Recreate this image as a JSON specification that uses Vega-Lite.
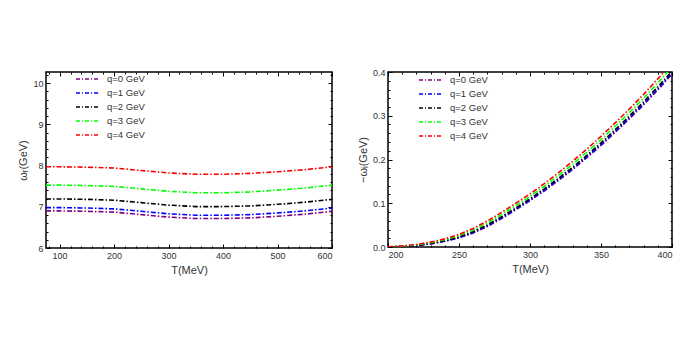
{
  "$schema": "https://vega.github.io/schema/vega-lite/v6.json",
  "background": "white",
  "padding": {"left": 17, "top": 62, "right": 5, "bottom": 5},
  "spacing": 22,
  "datasets": {
    "left": [
      {"q": "q=0 GeV", "T": 75, "w": 6.90}, {"q": "q=0 GeV", "T": 100, "w": 6.90}, {"q": "q=0 GeV", "T": 150, "w": 6.89}, {"q": "q=0 GeV", "T": 200, "w": 6.87}, {"q": "q=0 GeV", "T": 250, "w": 6.81}, {"q": "q=0 GeV", "T": 300, "w": 6.75}, {"q": "q=0 GeV", "T": 350, "w": 6.715}, {"q": "q=0 GeV", "T": 400, "w": 6.715}, {"q": "q=0 GeV", "T": 450, "w": 6.73}, {"q": "q=0 GeV", "T": 500, "w": 6.77}, {"q": "q=0 GeV", "T": 550, "w": 6.82}, {"q": "q=0 GeV", "T": 600, "w": 6.89},
      {"q": "q=1 GeV", "T": 75, "w": 6.98}, {"q": "q=1 GeV", "T": 100, "w": 6.98}, {"q": "q=1 GeV", "T": 150, "w": 6.97}, {"q": "q=1 GeV", "T": 200, "w": 6.95}, {"q": "q=1 GeV", "T": 250, "w": 6.89}, {"q": "q=1 GeV", "T": 300, "w": 6.83}, {"q": "q=1 GeV", "T": 350, "w": 6.795}, {"q": "q=1 GeV", "T": 400, "w": 6.795}, {"q": "q=1 GeV", "T": 450, "w": 6.81}, {"q": "q=1 GeV", "T": 500, "w": 6.85}, {"q": "q=1 GeV", "T": 550, "w": 6.90}, {"q": "q=1 GeV", "T": 600, "w": 6.97},
      {"q": "q=2 GeV", "T": 75, "w": 7.19}, {"q": "q=2 GeV", "T": 100, "w": 7.19}, {"q": "q=2 GeV", "T": 150, "w": 7.18}, {"q": "q=2 GeV", "T": 200, "w": 7.16}, {"q": "q=2 GeV", "T": 250, "w": 7.10}, {"q": "q=2 GeV", "T": 300, "w": 7.04}, {"q": "q=2 GeV", "T": 350, "w": 7.005}, {"q": "q=2 GeV", "T": 400, "w": 7.005}, {"q": "q=2 GeV", "T": 450, "w": 7.02}, {"q": "q=2 GeV", "T": 500, "w": 7.06}, {"q": "q=2 GeV", "T": 550, "w": 7.11}, {"q": "q=2 GeV", "T": 600, "w": 7.18},
      {"q": "q=3 GeV", "T": 75, "w": 7.525}, {"q": "q=3 GeV", "T": 100, "w": 7.525}, {"q": "q=3 GeV", "T": 150, "w": 7.515}, {"q": "q=3 GeV", "T": 200, "w": 7.495}, {"q": "q=3 GeV", "T": 250, "w": 7.435}, {"q": "q=3 GeV", "T": 300, "w": 7.375}, {"q": "q=3 GeV", "T": 350, "w": 7.34}, {"q": "q=3 GeV", "T": 400, "w": 7.34}, {"q": "q=3 GeV", "T": 450, "w": 7.36}, {"q": "q=3 GeV", "T": 500, "w": 7.405}, {"q": "q=3 GeV", "T": 550, "w": 7.455}, {"q": "q=3 GeV", "T": 600, "w": 7.525},
      {"q": "q=4 GeV", "T": 75, "w": 7.97}, {"q": "q=4 GeV", "T": 100, "w": 7.97}, {"q": "q=4 GeV", "T": 150, "w": 7.96}, {"q": "q=4 GeV", "T": 200, "w": 7.94}, {"q": "q=4 GeV", "T": 250, "w": 7.88}, {"q": "q=4 GeV", "T": 300, "w": 7.82}, {"q": "q=4 GeV", "T": 350, "w": 7.79}, {"q": "q=4 GeV", "T": 400, "w": 7.79}, {"q": "q=4 GeV", "T": 450, "w": 7.81}, {"q": "q=4 GeV", "T": 500, "w": 7.85}, {"q": "q=4 GeV", "T": 550, "w": 7.90}, {"q": "q=4 GeV", "T": 600, "w": 7.97}
    ],
    "right": [
      {"q": "q=0 GeV", "T": 200, "w": 0}, {"q": "q=0 GeV", "T": 210, "w": 0.001}, {"q": "q=0 GeV", "T": 220, "w": 0.003}, {"q": "q=0 GeV", "T": 230, "w": 0.007}, {"q": "q=0 GeV", "T": 240, "w": 0.013}, {"q": "q=0 GeV", "T": 250, "w": 0.021}, {"q": "q=0 GeV", "T": 260, "w": 0.032}, {"q": "q=0 GeV", "T": 270, "w": 0.047}, {"q": "q=0 GeV", "T": 280, "w": 0.065}, {"q": "q=0 GeV", "T": 290, "w": 0.085}, {"q": "q=0 GeV", "T": 300, "w": 0.106}, {"q": "q=0 GeV", "T": 310, "w": 0.128}, {"q": "q=0 GeV", "T": 320, "w": 0.152}, {"q": "q=0 GeV", "T": 330, "w": 0.177}, {"q": "q=0 GeV", "T": 340, "w": 0.204}, {"q": "q=0 GeV", "T": 350, "w": 0.232}, {"q": "q=0 GeV", "T": 360, "w": 0.262}, {"q": "q=0 GeV", "T": 370, "w": 0.293}, {"q": "q=0 GeV", "T": 380, "w": 0.325}, {"q": "q=0 GeV", "T": 390, "w": 0.359}, {"q": "q=0 GeV", "T": 400, "w": 0.395},
      {"q": "q=1 GeV", "T": 200, "w": 0.0001}, {"q": "q=1 GeV", "T": 210, "w": 0.0011}, {"q": "q=1 GeV", "T": 220, "w": 0.0033}, {"q": "q=1 GeV", "T": 230, "w": 0.0074}, {"q": "q=1 GeV", "T": 240, "w": 0.0136}, {"q": "q=1 GeV", "T": 250, "w": 0.0218}, {"q": "q=1 GeV", "T": 260, "w": 0.0331}, {"q": "q=1 GeV", "T": 270, "w": 0.0483}, {"q": "q=1 GeV", "T": 280, "w": 0.0664}, {"q": "q=1 GeV", "T": 290, "w": 0.0865}, {"q": "q=1 GeV", "T": 300, "w": 0.1075}, {"q": "q=1 GeV", "T": 310, "w": 0.1297}, {"q": "q=1 GeV", "T": 320, "w": 0.1538}, {"q": "q=1 GeV", "T": 330, "w": 0.1789}, {"q": "q=1 GeV", "T": 340, "w": 0.206}, {"q": "q=1 GeV", "T": 350, "w": 0.2341}, {"q": "q=1 GeV", "T": 360, "w": 0.2642}, {"q": "q=1 GeV", "T": 370, "w": 0.2952}, {"q": "q=1 GeV", "T": 380, "w": 0.3274}, {"q": "q=1 GeV", "T": 390, "w": 0.3615}, {"q": "q=1 GeV", "T": 400, "w": 0.3975},
      {"q": "q=2 GeV", "T": 200, "w": 0.0002}, {"q": "q=2 GeV", "T": 210, "w": 0.0014}, {"q": "q=2 GeV", "T": 220, "w": 0.0038}, {"q": "q=2 GeV", "T": 230, "w": 0.0082}, {"q": "q=2 GeV", "T": 240, "w": 0.0146}, {"q": "q=2 GeV", "T": 250, "w": 0.0232}, {"q": "q=2 GeV", "T": 260, "w": 0.035}, {"q": "q=2 GeV", "T": 270, "w": 0.0506}, {"q": "q=2 GeV", "T": 280, "w": 0.069}, {"q": "q=2 GeV", "T": 290, "w": 0.0892}, {"q": "q=2 GeV", "T": 300, "w": 0.1104}, {"q": "q=2 GeV", "T": 310, "w": 0.1328}, {"q": "q=2 GeV", "T": 320, "w": 0.157}, {"q": "q=2 GeV", "T": 330, "w": 0.1824}, {"q": "q=2 GeV", "T": 340, "w": 0.2096}, {"q": "q=2 GeV", "T": 350, "w": 0.238}, {"q": "q=2 GeV", "T": 360, "w": 0.2682}, {"q": "q=2 GeV", "T": 370, "w": 0.2994}, {"q": "q=2 GeV", "T": 380, "w": 0.3318}, {"q": "q=2 GeV", "T": 390, "w": 0.3662}, {"q": "q=2 GeV", "T": 400, "w": 0.402},
      {"q": "q=3 GeV", "T": 200, "w": 0.00045}, {"q": "q=3 GeV", "T": 210, "w": 0.0019}, {"q": "q=3 GeV", "T": 220, "w": 0.0048}, {"q": "q=3 GeV", "T": 230, "w": 0.0097}, {"q": "q=3 GeV", "T": 240, "w": 0.0166}, {"q": "q=3 GeV", "T": 250, "w": 0.026}, {"q": "q=3 GeV", "T": 260, "w": 0.0388}, {"q": "q=3 GeV", "T": 270, "w": 0.0551}, {"q": "q=3 GeV", "T": 280, "w": 0.074}, {"q": "q=3 GeV", "T": 290, "w": 0.0945}, {"q": "q=3 GeV", "T": 300, "w": 0.1159}, {"q": "q=3 GeV", "T": 310, "w": 0.1388}, {"q": "q=3 GeV", "T": 320, "w": 0.1633}, {"q": "q=3 GeV", "T": 330, "w": 0.1892}, {"q": "q=3 GeV", "T": 340, "w": 0.2166}, {"q": "q=3 GeV", "T": 350, "w": 0.2455}, {"q": "q=3 GeV", "T": 360, "w": 0.276}, {"q": "q=3 GeV", "T": 370, "w": 0.3074}, {"q": "q=3 GeV", "T": 380, "w": 0.3403}, {"q": "q=3 GeV", "T": 390, "w": 0.3752}, {"q": "q=3 GeV", "T": 400, "w": 0.411},
      {"q": "q=4 GeV", "T": 200, "w": 0.0007}, {"q": "q=4 GeV", "T": 210, "w": 0.0024}, {"q": "q=4 GeV", "T": 220, "w": 0.0058}, {"q": "q=4 GeV", "T": 230, "w": 0.0112}, {"q": "q=4 GeV", "T": 240, "w": 0.0186}, {"q": "q=4 GeV", "T": 250, "w": 0.0287}, {"q": "q=4 GeV", "T": 260, "w": 0.0425}, {"q": "q=4 GeV", "T": 270, "w": 0.0596}, {"q": "q=4 GeV", "T": 280, "w": 0.079}, {"q": "q=4 GeV", "T": 290, "w": 0.1}, {"q": "q=4 GeV", "T": 300, "w": 0.1214}, {"q": "q=4 GeV", "T": 310, "w": 0.1448}, {"q": "q=4 GeV", "T": 320, "w": 0.1695}, {"q": "q=4 GeV", "T": 330, "w": 0.1959}, {"q": "q=4 GeV", "T": 340, "w": 0.2236}, {"q": "q=4 GeV", "T": 350, "w": 0.253}, {"q": "q=4 GeV", "T": 360, "w": 0.2837}, {"q": "q=4 GeV", "T": 370, "w": 0.3154}, {"q": "q=4 GeV", "T": 380, "w": 0.3488}, {"q": "q=4 GeV", "T": 390, "w": 0.3842}, {"q": "q=4 GeV", "T": 400, "w": 0.42}
    ]
  },
  "resolve": {"legend": {"color": "independent"}},
  "hconcat": [
    {
      "width": 286, "height": 176,
      "data": {"name": "left"},
      "layer": [
        {
          "mark": {"type": "line", "strokeWidth": 1.6, "strokeDash": [5, 2, 1.5, 2], "clip": true},
          "encoding": {
            "x": {"field": "T", "type": "quantitative", "scale": {"domain": [75, 600], "nice": false, "zero": false},
                  "axis": {"title": "T(MeV)", "values": [100, 200, 300, 400, 500, 600], "tickSize": -4, "labelPadding": 7, "titlePadding": 4}},
            "y": {"field": "w", "type": "quantitative", "scale": {"domain": [6, 10.27], "nice": false, "zero": false},
                  "axis": {"title": "ωᵣ(GeV)", "values": [6, 7, 8, 9, 10], "tickSize": -4, "labelPadding": 7, "titlePadding": 4}},
            "color": {"field": "q", "type": "nominal",
                      "scale": {"domain": ["q=0 GeV", "q=1 GeV", "q=2 GeV", "q=3 GeV", "q=4 GeV"], "range": ["#800080", "#0000ff", "#000000", "#00ff00", "#ff0000"]},
                      "legend": {"orient": "none", "legendX": 33, "legendY": -2, "title": null, "symbolType": "M-1.5,0H1.5", "symbolSize": 256, "symbolStrokeWidth": 1.6, "symbolDash": [4, 2, 1, 2], "labelFontSize": 9.5, "labelColor": "#333", "labelFont": "Liberation Sans", "rowPadding": -1.5, "labelOffset": 10}}
          }
        },
        {
          "mark": {"type": "line", "opacity": 0},
          "encoding": {
            "x": {"field": "T", "type": "quantitative", "axis": {"orient": "top", "title": null, "labels": false, "values": [100, 200, 300, 400, 500, 600], "tickSize": -4}},
            "y": {"field": "w", "type": "quantitative", "axis": {"orient": "right", "title": null, "labels": false, "values": [6, 7, 8, 9, 10], "tickSize": -4}}
          }
        },
        {
          "mark": {"type": "line", "opacity": 0},
          "encoding": {
            "x": {"field": "T", "type": "quantitative", "axis": {"orient": "bottom", "title": null, "labels": false, "values": [80, 120, 140, 160, 180, 220, 240, 260, 280, 320, 340, 360, 380, 420, 440, 460, 480, 520, 540, 560, 580], "tickSize": -2}},
            "y": {"field": "w", "type": "quantitative", "axis": {"orient": "left", "title": null, "labels": false, "values": [6.2, 6.4, 6.6, 6.8, 7.2, 7.4, 7.6, 7.8, 8.2, 8.4, 8.6, 8.8, 9.2, 9.4, 9.6, 9.8, 10.2], "tickSize": -2}}
          }
        },
        {
          "mark": {"type": "line", "opacity": 0},
          "encoding": {
            "x": {"field": "T", "type": "quantitative", "axis": {"orient": "top", "title": null, "labels": false, "values": [80, 120, 140, 160, 180, 220, 240, 260, 280, 320, 340, 360, 380, 420, 440, 460, 480, 520, 540, 560, 580], "tickSize": -2}},
            "y": {"field": "w", "type": "quantitative", "axis": {"orient": "right", "title": null, "labels": false, "values": [6.2, 6.4, 6.6, 6.8, 7.2, 7.4, 7.6, 7.8, 8.2, 8.4, 8.6, 8.8, 9.2, 9.4, 9.6, 9.8, 10.2], "tickSize": -2}}
          }
        }
      ]
    },
    {
      "width": 284, "height": 175,
      "data": {"name": "right"},
      "layer": [
        {
          "mark": {"type": "line", "strokeWidth": 1.6, "strokeDash": [5, 2, 1.5, 2], "clip": true},
          "encoding": {
            "x": {"field": "T", "type": "quantitative", "scale": {"domain": [200, 400], "nice": false, "zero": false},
                  "axis": {"title": "T(MeV)", "values": [200, 250, 300, 350, 400], "tickSize": -4, "labelPadding": 7, "titlePadding": 4}},
            "y": {"field": "w", "type": "quantitative", "scale": {"domain": [0, 0.4], "nice": false},
                  "axis": {"title": "−ωᵢ(GeV)", "values": [0, 0.1, 0.2, 0.3, 0.4], "format": ".1f", "tickSize": -4, "labelPadding": 7, "titlePadding": 4}},
            "color": {"field": "q", "type": "nominal",
                      "scale": {"domain": ["q=0 GeV", "q=1 GeV", "q=2 GeV", "q=3 GeV", "q=4 GeV"], "range": ["#800080", "#0000ff", "#000000", "#00ff00", "#ff0000"]},
                      "legend": {"orient": "none", "legendX": 34, "legendY": -1, "title": null, "symbolType": "M-1.5,0H1.5", "symbolSize": 256, "symbolStrokeWidth": 1.6, "symbolDash": [4, 2, 1, 2], "labelFontSize": 9.5, "labelColor": "#333", "labelFont": "Liberation Sans", "rowPadding": -1.5, "labelOffset": 10}}
          }
        },
        {
          "mark": {"type": "line", "opacity": 0},
          "encoding": {
            "x": {"field": "T", "type": "quantitative", "axis": {"orient": "top", "title": null, "labels": false, "values": [200, 250, 300, 350, 400], "tickSize": -4}},
            "y": {"field": "w", "type": "quantitative", "axis": {"orient": "right", "title": null, "labels": false, "values": [0, 0.1, 0.2, 0.3, 0.4], "tickSize": -4}}
          }
        },
        {
          "mark": {"type": "line", "opacity": 0},
          "encoding": {
            "x": {"field": "T", "type": "quantitative", "axis": {"orient": "bottom", "title": null, "labels": false, "values": [210, 220, 230, 240, 260, 270, 280, 290, 310, 320, 330, 340, 360, 370, 380, 390], "tickSize": -2}},
            "y": {"field": "w", "type": "quantitative", "axis": {"orient": "left", "title": null, "labels": false, "values": [0.02, 0.04, 0.06, 0.08, 0.12, 0.14, 0.16, 0.18, 0.22, 0.24, 0.26, 0.28, 0.32, 0.34, 0.36, 0.38], "tickSize": -2}}
          }
        },
        {
          "mark": {"type": "line", "opacity": 0},
          "encoding": {
            "x": {"field": "T", "type": "quantitative", "axis": {"orient": "top", "title": null, "labels": false, "values": [210, 220, 230, 240, 260, 270, 280, 290, 310, 320, 330, 340, 360, 370, 380, 390], "tickSize": -2}},
            "y": {"field": "w", "type": "quantitative", "axis": {"orient": "right", "title": null, "labels": false, "values": [0.02, 0.04, 0.06, 0.08, 0.12, 0.14, 0.16, 0.18, 0.22, 0.24, 0.26, 0.28, 0.32, 0.34, 0.36, 0.38], "tickSize": -2}}
          }
        }
      ]
    }
  ],
  "config": {
    "font": "Liberation Sans",
    "view": {"stroke": "#000", "strokeWidth": 1.5},
    "axis": {"grid": false, "domain": false, "tickColor": "#000", "tickWidth": 1, "labelFont": "Liberation Sans", "labelFontSize": 9, "labelColor": "#333", "titleFont": "Liberation Sans", "titleFontSize": 11, "titleFontWeight": "normal", "titleColor": "#333"},
    "legend": {"padding": 0}
  }
}
